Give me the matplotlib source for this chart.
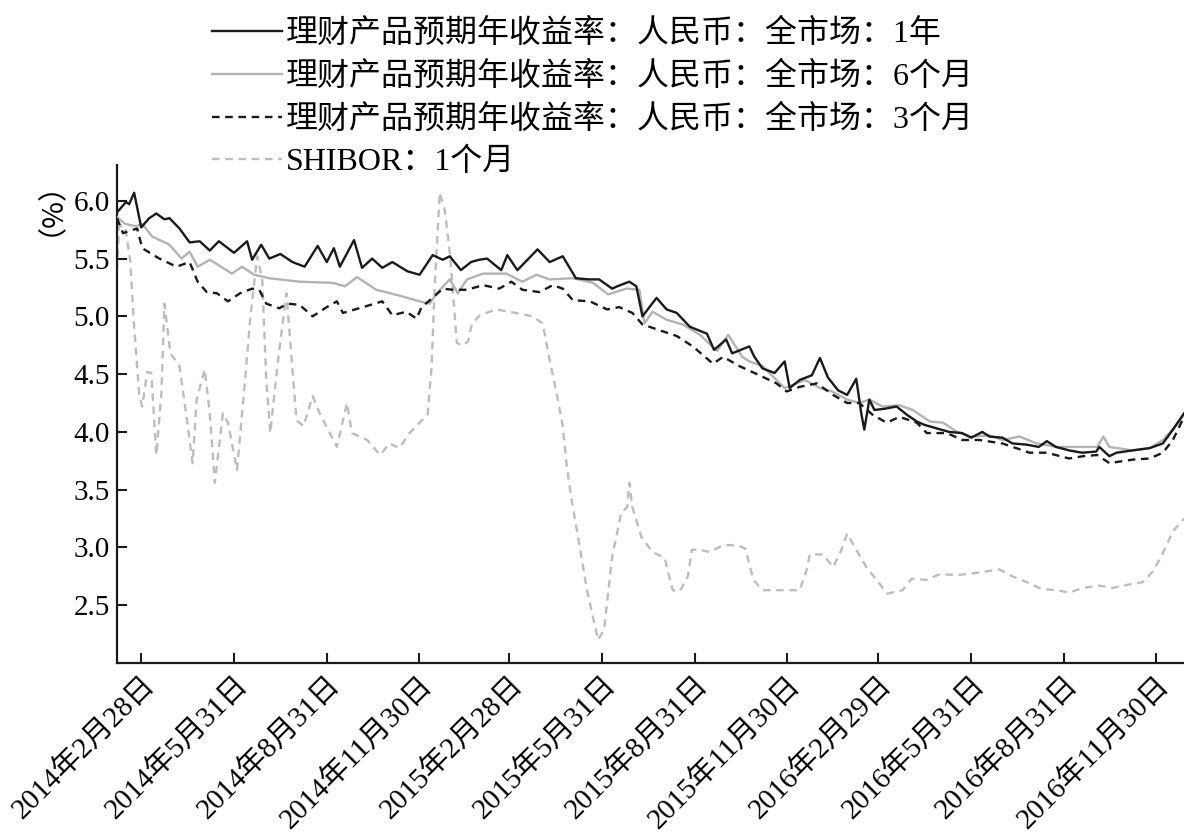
import numpy as np
import pandas as pd
import matplotlib
matplotlib.use('Agg')
import matplotlib.pyplot as plt
import matplotlib.dates as mdates

plt.rcParams['font.family'] = ['Liberation Serif', 'Noto Sans CJK SC']

# 理财产品预期年收益率：1年
d_1y = ['2014-02-04', '2014-02-09', '2014-02-13', '2014-02-16', '2014-02-21', '2014-02-28',
        '2014-03-08', '2014-03-15', '2014-03-23', '2014-03-28', '2014-04-07', '2014-04-17',
        '2014-04-27', '2014-05-07', '2014-05-16', '2014-05-31', '2014-06-13', '2014-06-18',
        '2014-06-27', '2014-07-05', '2014-07-16', '2014-07-28', '2014-08-09', '2014-08-22',
        '2014-08-31', '2014-09-07', '2014-09-13', '2014-09-27', '2014-10-05', '2014-10-15',
        '2014-10-25', '2014-11-04', '2014-11-19', '2014-12-01', '2014-12-14', '2014-12-24',
        '2014-12-31', '2015-01-11', '2015-01-21', '2015-01-29', '2015-02-06', '2015-02-20',
        '2015-02-26', '2015-03-08', '2015-03-28', '2015-04-09', '2015-04-22', '2015-05-05',
        '2015-05-18', '2015-05-28', '2015-06-10', '2015-06-15', '2015-06-27', '2015-07-04',
        '2015-07-10', '2015-07-24', '2015-08-03', '2015-08-13', '2015-08-26', '2015-09-12',
        '2015-09-19', '2015-10-01', '2015-10-07', '2015-10-24', '2015-10-29', '2015-11-06',
        '2015-11-18', '2015-11-28', '2015-12-03', '2015-12-13', '2015-12-25', '2016-01-02',
        '2016-01-10', '2016-01-20', '2016-01-29', '2016-02-07', '2016-02-12', '2016-02-15',
        '2016-02-20', '2016-02-25', '2016-03-06', '2016-03-18', '2016-03-28', '2016-04-07',
        '2016-04-15', '2016-04-27', '2016-05-09', '2016-05-22', '2016-05-31', '2016-06-11',
        '2016-06-18', '2016-07-01', '2016-07-11', '2016-07-25', '2016-08-06', '2016-08-14',
        '2016-08-23', '2016-09-05', '2016-09-18', '2016-10-02', '2016-10-05', '2016-10-15',
        '2016-10-22', '2016-11-07', '2016-11-24', '2016-12-07', '2016-12-17', '2016-12-28']
v_1y = [5.90, 5.95, 5.99, 5.97, 6.07, 5.77,
        5.85, 5.89, 5.84, 5.85, 5.76, 5.64,
        5.65, 5.57, 5.65, 5.55, 5.65, 5.49,
        5.62, 5.50, 5.54, 5.47, 5.43, 5.61,
        5.47, 5.59, 5.43, 5.66, 5.42, 5.50,
        5.42, 5.47, 5.39, 5.36, 5.53, 5.49,
        5.52, 5.40, 5.47, 5.49, 5.50, 5.40,
        5.53, 5.40, 5.58, 5.47, 5.52, 5.33,
        5.32, 5.32, 5.24, 5.26, 5.30, 5.26,
        5.00, 5.16, 5.06, 5.03, 4.91, 4.85,
        4.71, 4.80, 4.68, 4.74, 4.65, 4.55,
        4.51, 4.61, 4.38, 4.45, 4.49, 4.64,
        4.47, 4.36, 4.32, 4.46, 4.16, 4.02,
        4.28, 4.19, 4.20, 4.22, 4.15, 4.09,
        4.06, 4.03, 4.00, 3.99, 3.95, 4.00,
        3.96, 3.95, 3.90, 3.89, 3.87, 3.92,
        3.87, 3.84, 3.82, 3.83, 3.87, 3.79,
        3.82, 3.84, 3.86, 3.90, 4.02, 4.16]

# 理财产品预期年收益率：6个月
d_6m = ['2014-02-04', '2014-02-12', '2014-02-23', '2014-03-01', '2014-03-11', '2014-03-21',
        '2014-03-28', '2014-04-09', '2014-04-17', '2014-04-25', '2014-05-07', '2014-05-29',
        '2014-06-08', '2014-06-20', '2014-07-05', '2014-08-04', '2014-09-06', '2014-09-18',
        '2014-09-30', '2014-10-19', '2014-11-11', '2014-12-01', '2014-12-11', '2014-12-18',
        '2014-12-31', '2015-01-08', '2015-01-17', '2015-02-02', '2015-02-25', '2015-03-13',
        '2015-03-27', '2015-04-09', '2015-05-02', '2015-05-22', '2015-06-06', '2015-06-24',
        '2015-07-07', '2015-07-12', '2015-07-20', '2015-08-03', '2015-08-19', '2015-09-05',
        '2015-09-22', '2015-10-03', '2015-10-17', '2015-10-24', '2015-11-06', '2015-11-28',
        '2015-12-10', '2015-12-18', '2016-01-02', '2016-01-14', '2016-01-29', '2016-02-10',
        '2016-02-20', '2016-03-04', '2016-03-21', '2016-04-03', '2016-04-20', '2016-05-03',
        '2016-05-17', '2016-05-30', '2016-06-18', '2016-07-01', '2016-07-18', '2016-08-04',
        '2016-08-24', '2016-09-19', '2016-10-03', '2016-10-09', '2016-10-15', '2016-11-07',
        '2016-11-24', '2016-12-07', '2016-12-17', '2016-12-28']
v_6m = [5.86, 5.80, 5.78, 5.80, 5.69, 5.65,
        5.62, 5.50, 5.56, 5.43, 5.49, 5.37,
        5.43, 5.36, 5.33, 5.30, 5.29, 5.26,
        5.34, 5.23, 5.18, 5.13, 5.11, 5.20,
        5.32, 5.20, 5.32, 5.37, 5.37, 5.30,
        5.36, 5.32, 5.33, 5.29, 5.19, 5.24,
        5.23, 4.94, 5.04, 4.97, 4.93, 4.84,
        4.70, 4.84, 4.65, 4.61, 4.57, 4.38,
        4.42, 4.45, 4.38, 4.35, 4.28, 4.25,
        4.28, 4.22, 4.23, 4.19, 4.09, 4.08,
        4.00, 3.96, 3.97, 3.93, 3.96, 3.90,
        3.87, 3.87, 3.87, 3.96, 3.87, 3.84,
        3.86, 3.93, 4.02, 4.15]

# 理财产品预期年收益率：3个月
d_3m = ['2014-02-04', '2014-02-10', '2014-02-20', '2014-02-24', '2014-03-01', '2014-03-18',
        '2014-04-04', '2014-04-17', '2014-04-25', '2014-05-04', '2014-05-14', '2014-05-25',
        '2014-06-06', '2014-06-18', '2014-06-25', '2014-07-02', '2014-07-15', '2014-07-23',
        '2014-08-04', '2014-08-17', '2014-08-31', '2014-09-10', '2014-09-16', '2014-10-06',
        '2014-10-25', '2014-11-04', '2014-11-18', '2014-11-28', '2014-12-03', '2014-12-14',
        '2014-12-24', '2015-01-03', '2015-01-17', '2015-02-02', '2015-02-18', '2015-03-02',
        '2015-03-13', '2015-03-30', '2015-04-12', '2015-04-22', '2015-05-02', '2015-05-19',
        '2015-06-05', '2015-06-17', '2015-06-30', '2015-07-10', '2015-07-27', '2015-08-13',
        '2015-08-29', '2015-09-18', '2015-09-28', '2015-10-14', '2015-11-03', '2015-11-20',
        '2015-11-30', '2015-12-13', '2015-12-30', '2016-01-15', '2016-01-29', '2016-02-10',
        '2016-02-23', '2016-03-08', '2016-03-21', '2016-04-07', '2016-04-17', '2016-05-07',
        '2016-05-22', '2016-06-08', '2016-07-01', '2016-07-28', '2016-08-14', '2016-09-05',
        '2016-09-19', '2016-10-03', '2016-10-15', '2016-11-07', '2016-11-24', '2016-12-07',
        '2016-12-17', '2016-12-28']
v_3m = [5.85, 5.72, 5.75, 5.76, 5.59, 5.50,
        5.43, 5.47, 5.30, 5.21, 5.20, 5.13,
        5.20, 5.24, 5.23, 5.11, 5.07, 5.11,
        5.10, 5.00, 5.08, 5.13, 5.03, 5.08,
        5.13, 5.01, 5.04, 4.98, 5.08, 5.16,
        5.24, 5.23, 5.23, 5.27, 5.24, 5.30,
        5.23, 5.21, 5.27, 5.24, 5.14, 5.13,
        5.06, 5.08, 5.03, 4.93, 4.88, 4.83,
        4.74, 4.59, 4.65, 4.57, 4.49, 4.42,
        4.35, 4.39, 4.42, 4.32, 4.25, 4.25,
        4.15, 4.08, 4.13, 4.08, 3.99, 3.99,
        3.93, 3.93, 3.90, 3.82, 3.82, 3.77,
        3.79, 3.80, 3.73, 3.76, 3.77, 3.82,
        3.93, 4.13]

# SHIBOR：1个月
d_shibor = ['2014-02-04', '2014-02-06', '2014-02-12', '2014-02-17', '2014-02-21', '2014-02-26',
            '2014-03-01', '2014-03-06', '2014-03-10', '2014-03-15', '2014-03-20', '2014-03-23',
            '2014-03-29', '2014-04-07', '2014-04-15', '2014-04-20', '2014-04-24', '2014-05-02',
            '2014-05-07', '2014-05-12', '2014-05-20', '2014-05-25', '2014-06-03', '2014-06-11',
            '2014-06-16', '2014-06-23', '2014-06-28', '2014-07-02', '2014-07-06', '2014-07-13',
            '2014-07-22', '2014-08-01', '2014-08-08', '2014-08-17', '2014-08-24', '2014-09-10',
            '2014-09-20', '2014-09-25', '2014-10-10', '2014-10-23', '2014-11-01', '2014-11-11',
            '2014-11-21', '2014-12-09', '2014-12-13', '2014-12-16', '2014-12-21', '2014-12-26',
            '2014-12-31', '2015-01-07', '2015-01-12', '2015-01-18', '2015-01-22', '2015-01-30',
            '2015-02-15', '2015-02-28', '2015-03-23', '2015-04-02', '2015-04-09', '2015-04-16',
            '2015-04-22', '2015-04-26', '2015-05-01', '2015-05-06', '2015-05-16', '2015-05-27',
            '2015-06-02', '2015-06-10', '2015-06-19', '2015-06-25', '2015-06-27', '2015-06-30',
            '2015-07-09', '2015-07-20', '2015-08-01', '2015-08-09', '2015-08-16', '2015-08-24',
            '2015-08-28', '2015-09-05', '2015-09-15', '2015-09-28', '2015-10-12', '2015-10-20',
            '2015-10-28', '2015-11-06', '2015-11-23', '2015-12-13', '2015-12-20', '2015-12-23',
            '2016-01-05', '2016-01-15', '2016-01-22', '2016-01-29', '2016-02-07', '2016-02-17',
            '2016-02-27', '2016-03-09', '2016-03-24', '2016-04-02', '2016-04-17', '2016-04-30',
            '2016-05-17', '2016-06-05', '2016-06-28', '2016-07-08', '2016-07-25', '2016-08-09',
            '2016-08-24', '2016-09-05', '2016-09-19', '2016-10-05', '2016-10-18', '2016-11-04',
            '2016-11-17', '2016-11-27', '2016-12-07', '2016-12-17', '2016-12-28']
v_shibor = [5.40, 5.78, 5.78, 5.49, 4.91, 4.33,
            4.22, 4.52, 4.51, 3.80, 4.33, 5.11,
            4.68, 4.57, 4.06, 3.73, 4.28, 4.54,
            4.16, 3.56, 4.16, 4.08, 3.67, 4.45,
            4.97, 5.52, 5.32, 4.45, 3.99, 4.57,
            5.20, 4.10, 4.05, 4.31, 4.16, 3.87,
            4.25, 3.99, 3.93, 3.80, 3.90, 3.86,
            3.99, 4.15, 4.57, 5.26, 6.07, 5.92,
            5.55, 4.77, 4.75, 4.78, 4.94, 5.01,
            5.06, 5.04, 5.00, 4.94, 4.62, 4.33,
            4.05, 3.70, 3.40, 3.15, 2.63, 2.20,
            2.29, 2.92, 3.30, 3.35, 3.56, 3.35,
            3.09, 2.96, 2.91, 2.63, 2.62, 2.75,
            2.98, 2.98, 2.96, 3.02, 3.02, 2.99,
            2.72, 2.63, 2.63, 2.63, 2.81, 2.94,
            2.94, 2.83, 2.95, 3.12, 2.98, 2.83,
            2.72, 2.60, 2.63, 2.73, 2.72, 2.77,
            2.76, 2.78, 2.81, 2.76, 2.70, 2.64,
            2.63, 2.61, 2.65, 2.67, 2.65, 2.68,
            2.70, 2.79, 2.95, 3.14, 3.25]

labels = ['理财产品预期年收益率：人民币：全市场：1年',
          '理财产品预期年收益率：人民币：全市场：6个月',
          '理财产品预期年收益率：人民币：全市场：3个月',
          'SHIBOR：1个月']

tick_dates = ['2014-02-28', '2014-05-31', '2014-08-31', '2014-11-30',
              '2015-02-28', '2015-05-31', '2015-08-31', '2015-11-30',
              '2016-02-29', '2016-05-31', '2016-08-31', '2016-11-30']
y_ticks = [2.5, 3.0, 3.5, 4.0, 4.5, 5.0, 5.5, 6.0]

fig = plt.figure(figsize=(11.84, 8.34), dpi=100)
ax = fig.add_axes([117 / 1184, 1 - 663 / 834, 1 - 117 / 1184, (663 - 165) / 834])

lw = 1.7
l1, = ax.plot(pd.to_datetime(d_1y), v_1y, color='#1a1a1a', lw=lw, zorder=4)
l2, = ax.plot(pd.to_datetime(d_6m), v_6m, color='#b3b3b3', lw=lw, zorder=3)
l3, = ax.plot(pd.to_datetime(d_3m), v_3m, color='#1a1a1a', lw=lw, dashes=(3.2, 2.4), zorder=3.5)
l4, = ax.plot(pd.to_datetime(d_shibor), v_shibor, color='#bdbdbd', lw=lw, dashes=(3.2, 2.4), zorder=2)

ax.set_xlim(pd.Timestamp('2014-02-04'), pd.Timestamp('2016-12-28'))
ax.set_ylim(2.0, 6.31)

ticks = pd.to_datetime(tick_dates)
ax.set_xticks(ticks)
ax.set_xticklabels([f'{t.year}年{t.month}月{t.day}日' for t in ticks],
                   rotation=45, ha='right', va='top', rotation_mode='anchor', fontsize=21)
ax.set_yticks(y_ticks)
ax.set_yticklabels([f'{v:.1f}' for v in y_ticks], fontsize=21)

ax.tick_params(direction='in', length=7, width=1.5, color='#1a1a1a')
ax.tick_params(axis='x', pad=6)
ax.tick_params(axis='y', pad=5)
for s in ['top', 'right']:
    ax.spines[s].set_visible(False)
for s in ['left', 'bottom']:
    ax.spines[s].set_linewidth(1.6)
    ax.spines[s].set_color('#1a1a1a')

fig.text(36 / 1184, 1 - 193 / 834, '（%）', rotation=90, ha='center', va='center',
         fontsize=21, family=['Noto Sans CJK SC'])

fig.legend([l1, l2, l3, l4], labels, loc='upper left', bbox_to_anchor=(212 / 1184, 1 - 19 / 834),
           frameon=False, fontsize=23, handlelength=2.2, handletextpad=0.1,
           labelspacing=0.4, borderpad=0, borderaxespad=0)

fig.savefig('out.png', dpi=100)
